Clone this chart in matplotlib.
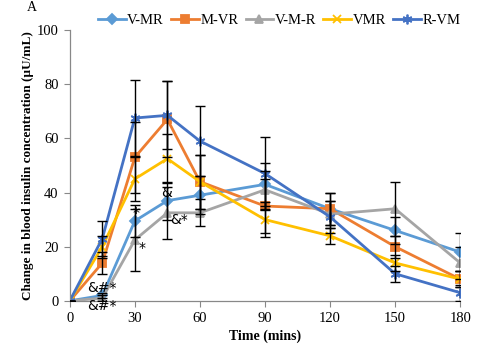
import matplotlib
matplotlib.use("Agg")
import matplotlib.pyplot as plt

plt.rcParams['font.family'] = ['Liberation Serif', 'DejaVu Serif']

time = [0, 15, 30, 45, 60, 90, 120, 150, 180]
series_names = ["V-MR", "M-VR", "V-M-R", "VMR", "R-VM"]
v_mr = [0, 2, 29.5, 37, 39, 43, 34, 26, 18]
m_vr = [0, 14, 53, 67, 44, 35, 34, 20, 8]
v_m_r = [0, 1, 22.5, 32.5, 32.5, 41, 32, 34, 14]
vmr = [0, 20, 45, 52.5, 44, 30, 24, 14, 8]
r_vm = [0, 23, 67.5, 68.5, 59, 47, 31, 10, 3]

err_v_mr = [0, 1, 6, 7, 7, 8, 6, 5, 7]
err_m_vr = [0, 4, 13, 14, 10, 10, 6, 4, 3]
err_v_m_r = [0, 1, 11.5, 9.5, 5, 7, 5, 10, 6]
err_vmr = [0, 4, 8, 9, 10, 6.5, 3, 3, 3]
err_r_vm = [0, 6.5, 14, 12.5, 13, 13.5, 6, 3, 3]

colors = ["#5B9BD5", "#ED7D31", "#A5A5A5", "#FFC000", "#4472C4"]
markers = ["D", "s", "^", "x", (6, 2, 0)]
msizes = [5, 6, 6, 6, 7]
values = [v_mr, m_vr, v_m_r, vmr, r_vm]
errors = [err_v_mr, err_m_vr, err_v_m_r, err_vmr, err_r_vm]

fig = plt.figure(figsize=(4.88, 3.49), dpi=100)
ax = fig.add_axes([0.143, 0.138, 0.80, 0.776])

handles = []
for name, vals, errs, c, m, ms in zip(series_names, values, errors, colors, markers, msizes):
    ax.errorbar(time, vals, yerr=errs, fmt='none', ecolor='black', elinewidth=1.0,
                capsize=3.5, capthick=1.0, zorder=3)
    h, = ax.plot(time, vals, color=c, lw=2.0, marker=m, markersize=ms,
                 markeredgecolor=c, markerfacecolor=c, markeredgewidth=1.3, label=name, zorder=2)
    handles.append(h)

annotations = [("&#*", 15, 4.8), ("&#*", 15, -2.0), ("*", 30.5, 32.5), ("*", 33.5, 19.5),
               ("&", 44.8, 40), ("&*", 50.5, 30)]
for txt, x, y in annotations:
    ax.text(x, y, txt, ha='center', va='center', fontsize=10, color='black', zorder=4,
            family=['DejaVu Sans'])

ax.set_xlim(0, 180)
ax.set_ylim(0, 100)
ax.set_xticks([0, 30, 60, 90, 120, 150, 180])
ax.set_yticks([0, 20, 40, 60, 80, 100])
for side in ['top', 'right']:
    ax.spines[side].set_visible(False)
for side in ['left', 'bottom']:
    ax.spines[side].set_color('#888888')
    ax.spines[side].set_linewidth(0.9)
ax.spines['bottom'].set_zorder(1)
ax.tick_params(axis='both', direction='out', length=4, color='#888888', labelsize=10.5, pad=4)

ax.set_xlabel("Time (mins)", fontsize=10, fontweight='bold', labelpad=3)
ax.set_ylabel("Change in blood insulin concentration (µU/mL)", fontsize=9.5,
              fontweight='bold', labelpad=2)

fig.text(0.066, 0.978, "A", fontsize=10, ha='center', va='center')
fig.legend(handles=handles, loc='center', bbox_to_anchor=(0.572, 0.941), ncol=5,
           frameon=False, fontsize=10.5, handlelength=1.9, columnspacing=0.5,
           handletextpad=0.1, borderaxespad=0, borderpad=0)

fig.savefig("out.png", dpi=100)
